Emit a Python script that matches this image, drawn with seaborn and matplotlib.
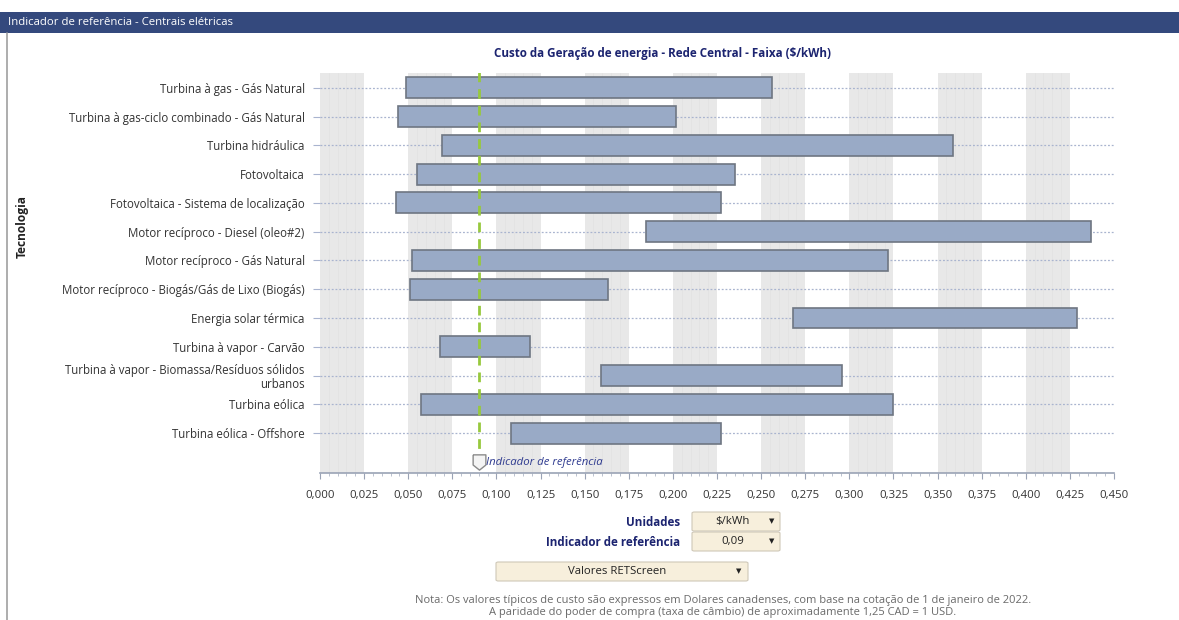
import matplotlib
matplotlib.use("Agg")
import matplotlib.pyplot as plt
import seaborn as sns
import pandas as pd
from matplotlib.patches import FancyBboxPatch, Rectangle
from matplotlib.lines import Line2D
from matplotlib.ticker import MultipleLocator, FuncFormatter

# ---------------- data ----------------
technologies = [
    "Turbina à gas - Gás Natural",
    "Turbina à gas-ciclo combinado - Gás Natural",
    "Turbina hidráulica",
    "Fotovoltaica",
    "Fotovoltaica - Sistema de localização",
    "Motor recíproco - Diesel (oleo#2)",
    "Motor recíproco - Gás Natural",
    "Motor recíproco - Biogás/Gás de Lixo (Biogás)",
    "Energia solar térmica",
    "Turbina à vapor - Carvão",
    "Turbina à vapor - Biomassa/Resíduos sólidos\nurbanos",
    "Turbina eólica",
    "Turbina eólica - Offshore",
]
cost_low = [0.049, 0.044, 0.069, 0.055, 0.043, 0.185, 0.052, 0.051, 0.268, 0.068, 0.159, 0.057, 0.108]
cost_high = [0.256, 0.202, 0.359, 0.235, 0.227, 0.437, 0.322, 0.163, 0.429, 0.119, 0.296, 0.325, 0.227]
reference_value = 0.09

title = "Custo da Geração de energia - Rede Central - Faixa ($/kWh)"
header = "Indicador de referência - Centrais elétricas"

W, H = 1179, 620

df = pd.DataFrame({"tech": technologies, "low": cost_low, "high": cost_high})
df["span"] = df["high"] - df["low"]

sns.set_theme(style="white")
FONT = ["Open Sans", "DejaVu Sans"]
plt.rcParams["font.family"] = FONT

fig = plt.figure(figsize=(W / 100, H / 100), dpi=100)
fig.patch.set_facecolor("white")

def fx(x):
    return x / W

def fy(y):
    return 1 - y / H

ax_l, ax_r, ax_t, ax_b = 320, 1114, 73, 473
ax = fig.add_axes([fx(ax_l), fy(ax_b), (ax_r - ax_l) / W, (ax_b - ax_t) / H])

# shaded bands
for i in range(0, 18, 2):
    a, b = i * 0.025, (i + 1) * 0.025
    ax.axvspan(a, b, color="#e8e8e8", zorder=0, lw=0)
    for k in range(1, 5):
        ax.axvline(a + k * 0.005, color="#e1e1e1", lw=0.5, zorder=0.5)

# horizontal dotted grid
for i in range(len(technologies)):
    ax.axhline(i, color="#a9b4cf", lw=0.9, ls=(0, (1.5, 1.5)), zorder=1)

sns.barplot(data=df, x="span", y="tech", left=df["low"].values, orient="h",
            color="#99aac6", edgecolor="#6e7682", linewidth=1.2, width=0.73,
            saturation=1, ax=ax, zorder=3)

# reference line and marker
ax.plot([reference_value, reference_value], [-0.55, 12.66], color="#97c93d",
        lw=2, ls=(0, (3.5, 2.5)), zorder=4)
pin = [(-1, 1.2), (1, 1.2), (1, -0.4), (0, -1.2), (-1, -0.4), (-1, 1.2)]
ax.plot([reference_value], [13.0], marker=pin, markersize=11, color="#f4f4f4",
        markeredgecolor="#8a8a8a", markeredgewidth=1, zorder=5, clip_on=False)
ax.text(reference_value + 0.0038, 13.02, "Indicador de referência", style="italic",
        color="#2e3a8f", fontsize=8.2, va="center", ha="left", zorder=5)

ax.set_xlim(0, 0.45)
ax.set_ylim(13.39, -0.52)
ax.xaxis.set_major_locator(MultipleLocator(0.025))
ax.xaxis.set_minor_locator(MultipleLocator(0.005))
ax.xaxis.set_major_formatter(FuncFormatter(lambda v, p: f"{v:.3f}".replace(".", ",")))
ax.tick_params(axis="x", which="major", length=4, width=0.8, color="#9aa3b5",
               labelsize=8.2, labelcolor="#333333", pad=8, bottom=True)
ax.tick_params(axis="x", which="minor", length=2, width=0.6, color="#b0b7c6", bottom=True)
ax.tick_params(axis="y", length=5, width=0.8, color="#a9b4cf", labelsize=8.3,
               labelcolor="#333333", pad=6, left=True)
for lab in ax.get_yticklabels():
    lab.set_linespacing(1.05)
ax.set_xlabel("")
ax.set_ylabel("")
for s in ["top", "right", "left"]:
    ax.spines[s].set_visible(False)
ax.spines["bottom"].set_color("#9aa3b5")
ax.spines["bottom"].set_linewidth(1.2)
ax.grid(False)

# header bar
fig.patches.append(Rectangle((0, fy(33)), 1, (33 - 12) / H, transform=fig.transFigure,
                             facecolor="#34497d", edgecolor="none", zorder=0))
fig.text(fx(8), fy(22.5), header, color="white", fontsize=8.2, va="center", ha="left")
fig.lines.append(Line2D([fx(7), fx(7)], [fy(33), 0], transform=fig.transFigure,
                        color="#a0a0a0", lw=1.2))

fig.text(fx(662), fy(54), title, color="#1c2470", fontsize=8.4, fontweight="bold",
         ha="center", va="center")
fig.text(fx(22), fy(226), "Tecnologia", color="#222222", fontsize=8.6, fontweight="bold",
         rotation=90, ha="center", va="center")

# controls
def box(x0, y0, x1, y1, label, cx, arrow_x):
    fig.patches.append(FancyBboxPatch((fx(x0), fy(y1)), (x1 - x0) / W, (y1 - y0) / H,
                                      boxstyle="round,pad=0,rounding_size=0.002",
                                      transform=fig.transFigure, facecolor="#f7efdc",
                                      edgecolor="#cfc8b8", lw=0.8))
    fig.text(fx(cx), fy((y0 + y1) / 2), label, fontsize=8.2, color="#222222",
             ha="center", va="center")
    fig.text(fx(arrow_x), fy((y0 + y1) / 2), "▼", fontsize=5, color="#222222",
             ha="center", va="center", family=["DejaVu Sans"])

fig.text(fx(680), fy(522), "Unidades", fontsize=8.4, fontweight="bold", color="#1c2470",
         ha="right", va="center")
fig.text(fx(680), fy(542), "Indicador de referência", fontsize=8.4, fontweight="bold",
         color="#1c2470", ha="right", va="center")
box(692, 512, 780, 531, "$/kWh", 732, 772)
box(692, 532, 780, 551, "0,09", 733, 772)
box(496, 562, 748, 581, "Valores RETScreen", 617, 739)

fig.text(fx(723), fy(600), "Nota: Os valores típicos de custo são expressos em Dolares canadenses, "
         "com base na cotação de 1 de janeiro de 2022.", fontsize=8, color="#6a6a6a",
         ha="center", va="center")
fig.text(fx(723), fy(612), "A paridade do poder de compra (taxa de câmbio) de aproximadamente "
         "1,25 CAD = 1 USD.", fontsize=8, color="#6a6a6a", ha="center", va="center")

fig.savefig("out.png", dpi=100)
